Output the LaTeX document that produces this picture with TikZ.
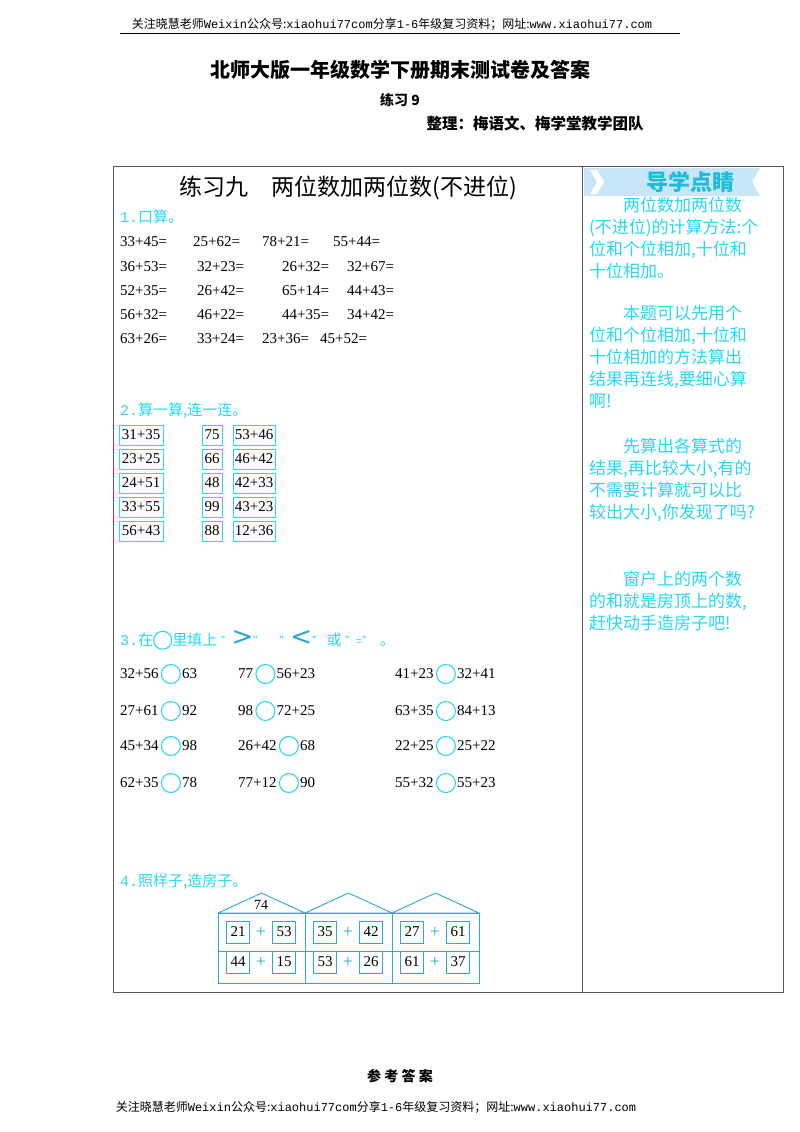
\documentclass[tikz,border=0pt]{standalone}
\usepackage{fontspec}
\usetikzlibrary{positioning}
\setmainfont{Liberation Serif}
\newfontfamily\cjk{Noto Sans CJK SC}
\newfontfamily\mono{Liberation Mono}
\definecolor{cy}{RGB}{40,215,245}
\definecolor{hb}{RGB}{40,170,210}
\definecolor{banner}{RGB}{200,230,248}
\begin{document}
\begin{tikzpicture}[x=1pt,y=-1pt,
 txt/.style={anchor=west,inner sep=0pt,font=\fontsize{15}{15}\selectfont},
 cyt/.style={anchor=west,inner sep=0pt,text=cy,font=\cjk\fontsize{15}{15}\selectfont},
 bx/.style={draw=cy,inner sep=1pt,minimum height=20,anchor=west,font=\fontsize{15}{15}\selectfont},
 circ/.style={draw=cy,line width=1.1pt,circle,minimum size=19,inner sep=0pt},
 hb/.style={draw=hb,line width=0.9pt},
 hbox/.style={draw=hb,line width=0.8pt,minimum width=23,minimum height=22,inner sep=0pt,font=\fontsize{15}{15}\selectfont},
 side/.style={anchor=north west,inner sep=0pt,text=cy,align=left,font=\cjk\fontsize{17}{22}\selectfont}]
\fill[white] (0,0) rectangle (800,1132);
\useasboundingbox (0,0) rectangle (800,1132);
% header
\node (hd) at (392,24) {\fontsize{12}{12}\selectfont\cjk 关注晓慧老师{\mono Weixin}公众号:{\mono xiaohui77com}分享{\mono 1-6}年级复习资料；网址:{\mono www.xiaohui77.com}};
\draw (120,33) -- (680,33);
\node (title) at (400,70) {\cjk\bfseries\fontsize{20}{20}\selectfont 北师大版一年级数学下册期末测试卷及答案};
\node (sub) at (400,100) {\cjk\bfseries\fontsize{14}{14}\selectfont 练习 9};
\node (auth) at (535,124) {\cjk\bfseries\fontsize{15.5}{16}\selectfont 整理：梅语文、梅学堂教学团队};
% frame
\draw[line width=0.8pt,gray!70!black] (113,166) rectangle (783,992);
\draw[line width=0.8pt,gray!70!black] (582,166) -- (582,992);
\fill[banner] (584,168) -- (760,168) -- (752,182) -- (760,196) -- (584,196) -- cycle;
\fill[white] (590,170) -- (597,170) -- (604,182) -- (597,194) -- (590,194) -- (597,182) -- cycle;
\node (bt) at (690,182) {\cjk\bfseries\fontsize{22}{22}\selectfont\color{hb!80!cyan} 导学点睛};
\node (lt) at (348,188) {\cjk\fontsize{23}{23}\selectfont 练习九\quad 两位数加两位数(不进位)};
% right column
\node[side] (p1) at (589,197) {\hspace{2em}两位数加两位数\\(不进位)的计算方法:个\\位和个位相加,十位和\\十位相加。};
\node[side] (p2) at (589,305) {\hspace{2em}本题可以先用个\\位和个位相加,十位和\\十位相加的方法算出\\结果再连线,要细心算\\啊!};
\node[side] (p3) at (589,438) {\hspace{2em}先算出各算式的\\结果,再比较大小,有的\\不需要计算就可以比\\较出大小,你发现了吗?};
\node[side] (p4) at (589,571) {\hspace{2em}窗户上的两个数\\的和就是房顶上的数,\\赶快动手造房子吧!};
% section 1
\node[cyt] (s1) at (120,217) {{\mono 1.}口算。};
\foreach \t/\x/\y in {33+45=/120/242,25+62=/193/242,78+21=/262/242,55+44=/333/242,
 36+53=/120/267,32+23=/197/267,26+32=/282/267,32+67=/347/267,
 52+35=/120/291,26+42=/197/291,65+14=/282/291,44+43=/347/291,
 56+32=/120/315,46+22=/197/315,44+35=/282/315,34+42=/347/315,
 63+26=/120/339,33+24=/197/339,23+36=/262/339,45+52=/320/339}
 \node[txt] at (\x,\y) {\t};
% section 2
\node[cyt] (s2) at (120,411) {{\mono 2.}算一算,连一连。};
\foreach \a/\b/\c/\y in {31+35/75/53+46/435,23+25/66/46+42/459,24+51/48/42+33/483,33+55/99/43+23/507,56+43/88/12+36/531}{
 \node[bx,minimum width=44] at (119,\y) {\a};
 \node[bx,minimum width=20] at (202,\y) {\b};
 \node[bx,minimum width=42] at (233,\y) {\c};
}
% section 3
\node[cyt] (s3) at (120,640) {{\mono 3.}在\tikz[baseline=-5pt]\draw[cy,line width=1.1pt] (0,0) circle (9);里填上 {\fontsize{11}{11}\selectfont”}{\fontsize{26}{26}\selectfont\fontspec{DejaVu Sans}\color{hb}>}{\fontsize{11}{11}\selectfont”}\quad{\fontsize{11}{11}\selectfont”}{\fontsize{26}{26}\selectfont\fontspec{DejaVu Sans}\color{hb}<}{\fontsize{11}{11}\selectfont”}\ 或 {\fontsize{11}{11}\selectfont”=”}\ \ 。};
\foreach \a/\b/\x/\y/\n in {32+56/63/120/674/a1,77/56+23/238/674/a2,41+23/32+41/395/674/a3,
 27+61/92/120/711/b1,98/72+25/238/711/b2,63+35/84+13/395/711/b3,
 45+34/98/120/746/c1,26+42/68/238/746/c2,22+25/25+22/395/746/c3,
 62+35/78/120/783/d1,77+12/90/238/783/d2,55+32/55+23/395/783/d3}{
 \node[txt] (\n l) at (\x,\y) {\a};
 \node[circ,right=2pt of \n l] (\n c) {};
 \node[txt,right=1pt of \n c] (\n r) {\b};
}
% section 4
\node[cyt] (s4) at (120,882) {{\mono 4.}照样子,造房子。};
\foreach \i in {0,1,2}{
 \pgfmathsetmacro\xa{218+87*\i}
 \pgfmathsetmacro\xb{305+87*\i}
 \pgfmathsetmacro\xm{261.5+87*\i}
 \draw[hb] (\xa,913) -- (\xm,893) -- (\xb,913) -- (\xa,913);
 \draw[hb] (\xa,913) rectangle (\xb,983);
 \draw[hb] (\xa,951) -- (\xb,951);
}
\node (r74) at (261,905) {\fontsize{14}{14}\selectfont 74};
\foreach \a/\b/\c/\d/\i in {21/53/44/15/0,35/42/53/26/1,27/61/61/37/2}{
 \pgfmathsetmacro\xl{238+87*\i}
 \pgfmathsetmacro\xr{284+87*\i}
 \pgfmathsetmacro\xp{261+87*\i}
 \node[hbox] (u\i a) at (\xl,932) {\a};
 \node[hbox] (u\i b) at (\xr,932) {\b};
 \node[text=hb] at (\xp,932) {\fontsize{18}{18}\selectfont +};
 \node[hbox] (v\i a) at (\xl,962) {\c};
 \node[hbox] (v\i b) at (\xr,962) {\d};
 \node[text=hb] at (\xp,962) {\fontsize{18}{18}\selectfont +};
}
% answers / footer
\node (ans) at (400,1076) {\cjk\bfseries\fontsize{14}{14}\selectfont 参 考 答 案};
\node (ft) at (376,1107) {\fontsize{12}{12}\selectfont\cjk 关注晓慧老师{\mono Weixin}公众号:{\mono xiaohui77com}分享{\mono 1-6}年级复习资料；网址:{\mono www.xiaohui77.com}};
\end{tikzpicture}
\end{document}
